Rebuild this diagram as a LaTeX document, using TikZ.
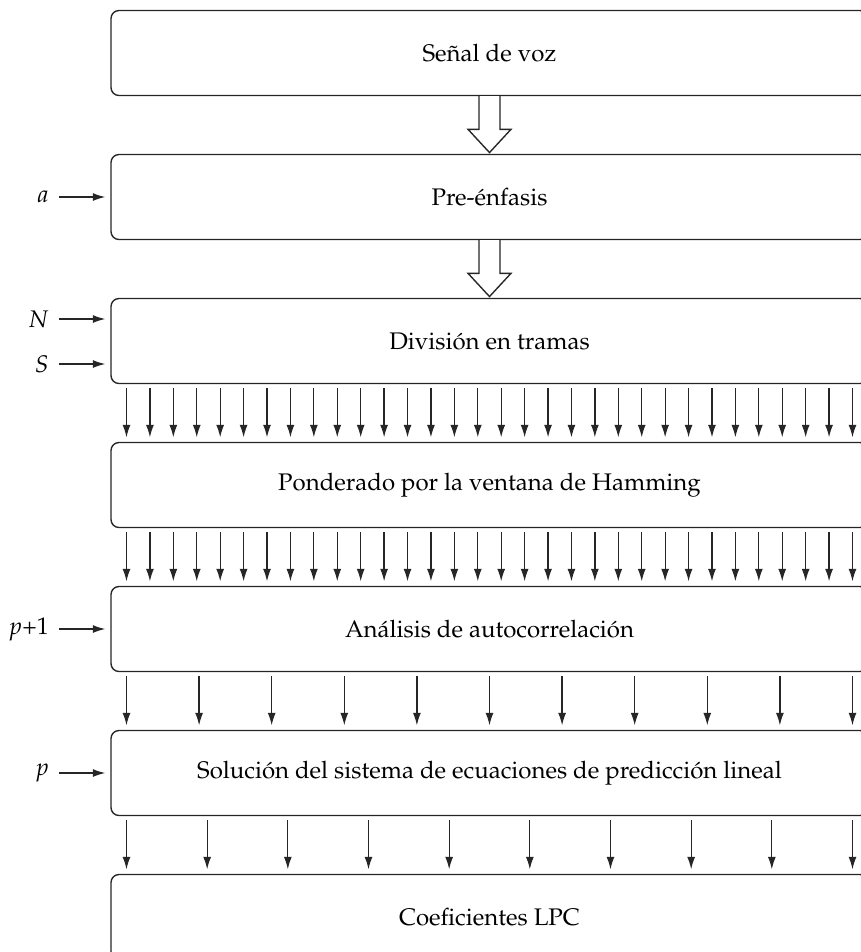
\documentclass[tikz,border=0pt]{standalone}
\usepackage[T1]{fontenc}
\usepackage{mathpazo}
\usetikzlibrary{arrows.meta, positioning}

% wide hollow arrow between two stages
\newcommand{\hollowarrow}[2]{%
  \draw[hollow] ([xshift=-4.2pt]#1.south) -- ([xshift=-4.2pt,yshift=9.8pt]#2.north)
    -- ([xshift=-8.6pt,yshift=9.8pt]#2.north) -- ([yshift=0.5pt]#2.north)
    -- ([xshift=8.6pt,yshift=9.8pt]#2.north) -- ([xshift=4.2pt,yshift=9.8pt]#2.north)
    -- ([xshift=4.2pt]#1.south);}

\begin{document}
\begin{tikzpicture}[node distance=57.6pt, font=\fontsize{9.6}{11.5}\selectfont,
    stage/.style={rectangle, draw=black!85, line width=0.55pt, rounded corners=3.2pt,
                  minimum width=302.8pt, minimum height=34pt, align=center},
    flow/.style={line width=0.5pt, draw=black!85, -{Latex[length=5pt,width=3.2pt]},
                 shorten <=1.6pt, shorten >=1.8pt},
    inarrow/.style={line width=0.5pt, draw=black!85, -{Latex[length=5pt,width=3.2pt]},
                    shorten <=4pt, shorten >=2pt},
    param/.style={inner sep=0pt, anchor=east},
    hollow/.style={draw=black!85, line width=0.55pt, fill=white, line join=miter}]

    \useasboundingbox (0,0) rectangle (344.4pt,-380.8pt);
    \clip (0,0) rectangle (344.4pt,-380.8pt);

    \node[stage] (senal) at (195.8pt,-21.2pt) {Se\~nal de voz};
    \node[stage, below of=senal] (preenf) {Pre-\'enfasis};
    \node[stage, below of=preenf] (tramas) {Divisi\'on en tramas};
    \node[stage, below of=tramas] (hamming) {Ponderado por la ventana de Hamming};
    \node[stage, below of=hamming] (autocorr) {An\'alisis de autocorrelaci\'on};
    \node[stage, below of=autocorr] (sistema) {Soluci\'on del sistema de ecuaciones de predicci\'on lineal};
    \node[stage, below of=sistema] (lpc) {Coeficientes LPC};

    % parameters
    \node[param] (a) at ([xshift=-24.4pt]preenf.west) {$a$};
    \node[param] (N) at ([xshift=-24.4pt,yshift=8.8pt]tramas.west) {$N$};
    \node[param] (S) at ([xshift=-24.4pt,yshift=-9.2pt]tramas.west) {$S$};
    \node[param] (p1) at ([xshift=-24.4pt]autocorr.west) {$p$+1};
    \node[param] (p) at ([xshift=-24.4pt]sistema.west) {$p$};

    \draw[inarrow] (a.east) -- (a.east -| preenf.west);
    \draw[inarrow] (N.east) -- (N.east -| tramas.west);
    \draw[inarrow] (S.east) -- (S.east -| tramas.west);
    \draw[inarrow] (p1.east) -- (p1.east -| autocorr.west);
    \draw[inarrow] (p.east) -- (p.east -| sistema.west);

    \hollowarrow{senal}{preenf}
    \hollowarrow{preenf}{tramas}

    \foreach \i [evaluate=\i as \x using -145.2+\i*9.3677] in {0,...,31} {
        \draw[flow] ([xshift=\x pt]tramas.south) -- ([xshift=\x pt]hamming.north);
        \draw[flow] ([xshift=\x pt]hamming.south) -- ([xshift=\x pt]autocorr.north);
    }
    \foreach \i [evaluate=\i as \x using -145.2+\i*29.04] in {0,...,10}
        \draw[flow] ([xshift=\x pt]autocorr.south) -- ([xshift=\x pt]sistema.north);
    \foreach \i [evaluate=\i as \x using -145.2+\i*32.2667] in {0,...,9}
        \draw[flow] ([xshift=\x pt]sistema.south) -- ([xshift=\x pt]lpc.north);

\end{tikzpicture}
\end{document}
